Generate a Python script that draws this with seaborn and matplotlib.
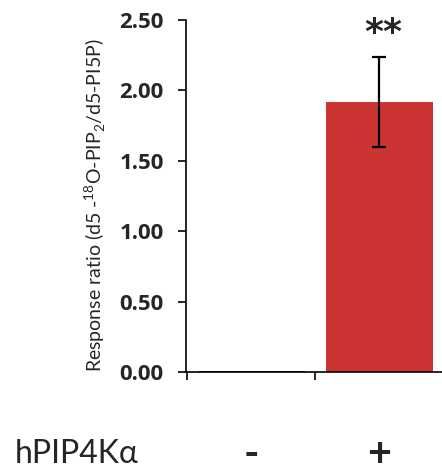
import matplotlib
matplotlib.use("Agg")
import matplotlib.pyplot as plt
import seaborn as sns
import pandas as pd
import numpy as np

categories = ["-", "+"]
values = [0.0, 1.92]
errors = [0.0, 0.32]
yticks = [0.0, 0.5, 1.0, 1.5, 2.0, 2.5]
ylabel = "Response ratio (d5 -$^{18}$O-PIP$_2$/d5-PI5P)"
xgroup = "hPIP4Kα"
signif = "**"
bar_colors = ["#000000", "#CC3333"]

sns.set_style("ticks")
plt.rcParams['font.family'] = ['Lato', 'DejaVu Sans']
plt.rcParams['mathtext.fontset'] = 'custom'
plt.rcParams['mathtext.rm'] = 'Lato'

fig = plt.figure(figsize=(4.42, 4.74), dpi=100)
ax = fig.add_axes([0.421, 0.215, 0.579, 0.743])

df = pd.DataFrame({"cond": categories, "val": values})
sns.barplot(data=df, x="cond", y="val", order=categories, ax=ax, width=0.84,
            palette=bar_colors, hue="cond", legend=False, saturation=1)
for patch, c in zip(ax.patches, bar_colors):
    patch.set_edgecolor(c)
    patch.set_linewidth(2.0 if c == "#000000" else 0)
ax.errorbar([1], [values[1]], yerr=[errors[1]], fmt="none", ecolor="black",
            elinewidth=1.6, capsize=5, capthick=1.6)
ax.text(1.03, 2.41, signif, ha="center", va="center", fontsize=26,
        fontweight="bold", family="DejaVu Sans", clip_on=False)

ax.set_ylim(0, 2.5)
ax.set_xlim(-0.51, 1.49)
ax.set_yticks(yticks)
ax.set_yticklabels([f"{v:.2f}" for v in yticks], fontsize=16, fontweight="bold",
                   family="Open Sans")
ax.set_xticks([0, 1])
ax.set_xticklabels(categories, fontsize=30, fontweight="bold")
ax.tick_params(axis="x", which="major", length=0, pad=46)
ax.set_xticks([-0.5, 0.5], minor=True)
ax.tick_params(axis="x", which="minor", length=6, width=1.2, direction="out", color="black")
ax.tick_params(axis="y", length=6, width=1.2, direction="out", color="black", pad=10)
ax.set_xlabel("")
ax.set_ylabel(ylabel, fontsize=14)
ax.yaxis.set_label_coords(-0.305, 0.474)
for s in ["top", "right"]:
    ax.spines[s].set_visible(False)
for s in ["left", "bottom"]:
    ax.spines[s].set_linewidth(1.2)
    ax.spines[s].set_color("black")

fig.text(0.034, 0.023, xgroup, fontsize=23, ha="left", va="baseline")

fig.savefig("out.png", dpi=100)
